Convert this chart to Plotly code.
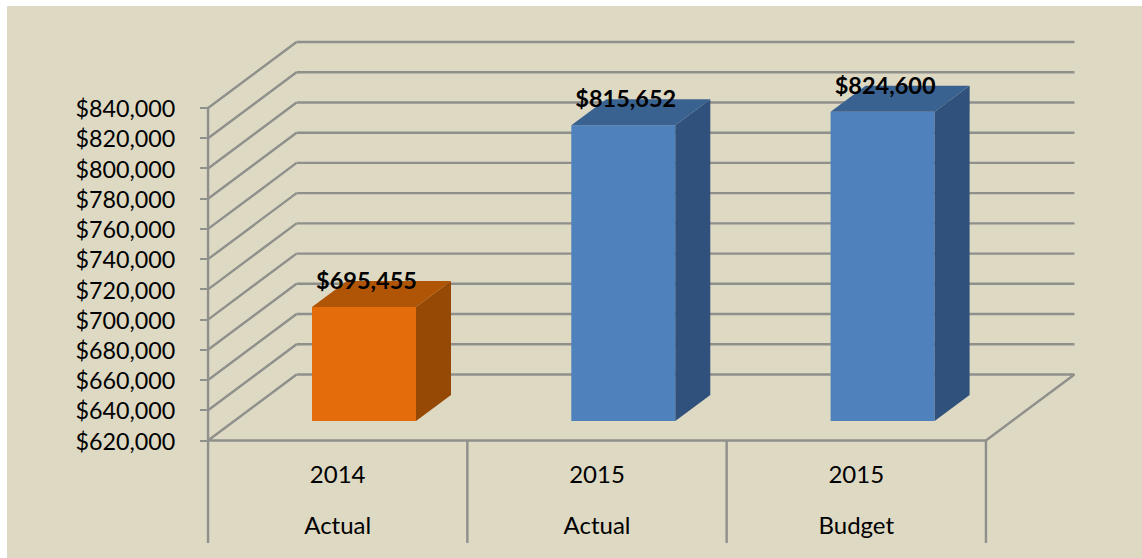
import plotly.graph_objects as go

# ---- data ----
years = ["2014", "2015", "2015"]
scenarios = ["Actual", "Actual", "Budget"]
values = [695455, 815652, 824600]
front_colors = ["#E46C0A", "#4F81BD", "#4F81BD"]
side_colors = ["#964805", "#30517B", "#30517B"]
top_colors = ["#B05506", "#3A6291", "#3A6291"]
y_ticks = list(range(620000, 860000, 20000))

# ---- geometry of the fake-3D view, as offsets in axis units ----
W, H = 1142, 558
PX_X = 259.3                      # pixels per category
PX_Y = 332.5 / 220000             # pixels per dollar
X_ZERO_PX, Y_BASE_PX = 337.7, 440.5   # pixel of category 0 / of $620,000
xs = list(range(len(values)))
y_min, y_max = y_ticks[0], y_ticks[-1]

def ux(px): return px / PX_X
def uy(px): return px / PX_Y

x_left, x_right = -0.5, len(values) - 0.5
wall_dx, wall_dy = ux(88.5), uy(66)
bar_w = ux(104)
bar_dx, bar_dy = ux(35), uy(26)
bar_shift_x, bar_shift_y = ux(26.3), uy(19.5)
label_shift_x, label_shift_y = ux(2.5), uy(24)
GRID = dict(color="#8F8F8C", width=2.4)

shapes = [dict(type="rect", xref="paper", yref="paper", x0=7 / W, x1=1, y0=0, y1=1 - 6 / H,
               fillcolor="#DDD9C3", line_width=0, layer="below")]

def seg(xa, ya, xb, yb, **kw):
    shapes.append(dict(type="line", xref="x", yref="y", x0=xa, y0=ya, x1=xb, y1=yb,
                       line=GRID, layer="below", **kw))

# wall gridlines: slanted part on the side wall, flat part on the back wall
for t in y_ticks:
    seg(x_left, t, x_left + wall_dx, t + wall_dy)
    seg(x_left + wall_dx, t + wall_dy, x_right + wall_dx, t + wall_dy)
# vertical axis, floor front edge and floor right edge
seg(x_left, y_min, x_left, y_max)
seg(x_left, y_min, x_right, y_min)
seg(x_right, y_min, x_right + wall_dx, y_min + wall_dy)
# category dividers below the floor
div_bottom = y_min - uy(102.5)
for i in range(len(values) + 1):
    seg(x_left + i, y_min, x_left + i, div_bottom)

fig = go.Figure()

# front faces
fig.add_trace(go.Bar(
    x=xs, y=[v - y_min for v in values], base=y_min + bar_shift_y,
    width=bar_w, offset=-bar_w / 2 + bar_shift_x,
    marker=dict(color=front_colors, line_width=0), hoverinfo="skip"))

# side and top faces, computed from each value
for x, v, sc, tc in zip(xs, values, side_colors, top_colors):
    xl = x + bar_shift_x - bar_w / 2
    xr = xl + bar_w
    yb = y_min + bar_shift_y
    yt = v + bar_shift_y
    fig.add_trace(go.Scatter(
        x=[xr, xr + bar_dx, xr + bar_dx, xr, xr], y=[yb, yb + bar_dy, yt + bar_dy, yt, yb],
        mode="lines", line_width=0, fill="toself", fillcolor=sc, hoverinfo="skip"))
    fig.add_trace(go.Scatter(
        x=[xl, xr, xr + bar_dx, xl + bar_dx, xl], y=[yt, yt, yt + bar_dy, yt + bar_dy, yt],
        mode="lines", line_width=0, fill="toself", fillcolor=tc, hoverinfo="skip"))

# value labels
fig.add_trace(go.Scatter(
    x=[x + bar_shift_x + label_shift_x for x in xs],
    y=[v + bar_shift_y + label_shift_y for v in values],
    mode="text", text=[f"${v:,}" for v in values], textposition="middle center",
    textfont=dict(family="Lato", size=23.5, color="#000000", weight="bold"), hoverinfo="skip"))

# two-level category labels
fig.add_trace(go.Scatter(
    x=xs, y=[y_min - uy(36.5)] * len(xs), mode="text", text=years,
    textposition="middle center", textfont=dict(family="Lato", size=24, color="#000000"),
    hoverinfo="skip"))
fig.add_trace(go.Scatter(
    x=xs, y=[y_min - uy(87)] * len(xs), mode="text", text=scenarios,
    textposition="middle center", textfont=dict(family="Lato", size=24, color="#000000"),
    hoverinfo="skip"))

fig.update_layout(
    width=W, height=H, margin=dict(l=0, r=0, t=0, b=0, autoexpand=False),
    paper_bgcolor="#FFFFFF", plot_bgcolor="rgba(0,0,0,0)", showlegend=False,
    shapes=shapes, font=dict(family="Lato", color="#000000"),
    xaxis=dict(range=[-X_ZERO_PX / PX_X, (W - X_ZERO_PX) / PX_X], visible=False, fixedrange=True),
    yaxis=dict(range=[y_min - (H - Y_BASE_PX) / PX_Y, y_min + Y_BASE_PX / PX_Y],
               anchor="free", position=208 / W, tickmode="array", tickvals=y_ticks,
               tickformat="$,.0f", tickfont=dict(family="Lato", size=23.3, color="#000000"),
               ticks="outside", ticklen=8, tickwidth=2.4, tickcolor="#8F8F8C",
               ticklabelstandoff=20, ticklabelshift=1, showgrid=False, zeroline=False,
               showline=False, automargin=False, fixedrange=True),
)

fig.write_html("out.html", config={"displayModeBar": False},
               post_script="document.body.style.margin='0';document.body.style.overflow='hidden';")
